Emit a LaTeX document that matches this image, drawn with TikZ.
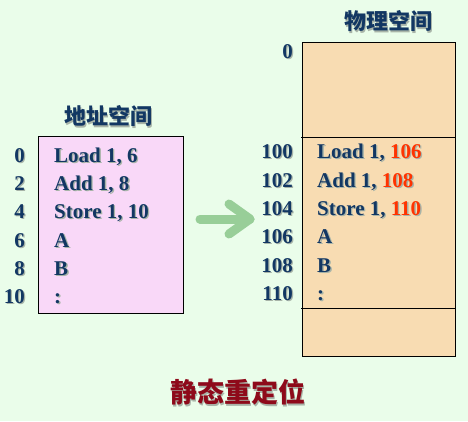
\documentclass[tikz,border=0pt]{standalone}
\usepackage{fontspec}
\setmainfont{Liberation Serif}
\newfontfamily\cjk{Noto Sans CJK SC}
\definecolor{bgc}{HTML}{EAFDEA}
\definecolor{pinkc}{HTML}{F9D8F8}
\definecolor{wheatc}{HTML}{F8DCB2}
\definecolor{txtblue}{HTML}{123763}
\definecolor{hlred}{HTML}{FF3300}
\definecolor{shadowc}{HTML}{A8B4A8}
\definecolor{arrowc}{HTML}{98CE98}
\definecolor{titlered}{HTML}{8E0A1A}
\newcommand\hlc{hlred}
\newcommand\hl[1]{\textcolor{\hlc}{#1}}
\newcommand\sh[1]{\leavevmode\rlap{\kern1.3pt\raisebox{-1.3pt}{\def\hlc{shadowc}\textcolor{shadowc}{#1}}}#1}
\tikzset{
  lbl/.style={font=\bfseries\fontsize{21}{21}\selectfont, text=txtblue, inner sep=0pt},
  codeline/.style={lbl, anchor=base west},
  addr/.style={lbl, anchor=base east},
  cntitle/.style={font=\cjk\bfseries\fontsize{22}{22}\selectfont, text=txtblue, inner sep=0pt},
  membox/.style={draw=black, line width=0.9pt},
  divider/.style={draw=black, line width=0.9pt},
  bigarrow/.style={draw=arrowc, line width=9pt, line cap=round, line join=round}
}
\begin{document}
\begin{tikzpicture}[x=1pt,y=-1pt]
\fill[bgc] (0,0) rectangle (468,421);
\useasboundingbox (0,0) rectangle (468,421);
% left box
\draw[membox, fill=pinkc] (38,136) rectangle (183,313);
\node[cntitle] (lt) at (108,117) {\sh{地址空间}};
\node[addr] (la0) at (25,162) {\sh{0}};
\node[addr] (la2) at (25,190.5) {\sh{2}};
\node[addr] (la4) at (25,218.5) {\sh{4}};
\node[addr] (la6) at (25,247) {\sh{6}};
\node[addr] (la8) at (25,275) {\sh{8}};
\node[addr] (la10) at (25,303) {\sh{10}};
\node[codeline] (lc0) at (54,162) {\sh{Load 1, 6}};
\node[codeline] (lc2) at (54,190.5) {\sh{Add 1, 8}};
\node[codeline] (lc4) at (54,218.5) {\sh{Store 1, 10}};
\node[codeline] (lc6) at (54,247) {\sh{A}};
\node[codeline] (lc8) at (54,275) {\sh{B}};
\node[codeline] (lc10) at (54,303) {\sh{:}};
% right box
\draw[membox, fill=wheatc] (302,42) rectangle (455,356);
\draw[divider] (301,137) -- (455,137);
\draw[divider] (301,308) -- (455,308);
\node[cntitle] (rt) at (388,22) {\sh{物理空间}};
\node[addr] (ra0) at (293,58) {\sh{0}};
\node[addr] (ra100) at (293,158.5) {\sh{100}};
\node[addr] (ra102) at (293,187) {\sh{102}};
\node[addr] (ra104) at (293,215) {\sh{104}};
\node[addr] (ra106) at (293,243.5) {\sh{106}};
\node[addr] (ra108) at (293,272) {\sh{108}};
\node[addr] (ra110) at (293,300) {\sh{110}};
\node[codeline] (rc100) at (317,158.5) {\sh{Load 1, \hl{106}}};
\node[codeline] (rc102) at (317,187) {\sh{Add 1, \hl{108}}};
\node[codeline] (rc104) at (317,215) {\sh{Store 1, \hl{110}}};
\node[codeline] (rc106) at (317,243.5) {\sh{A}};
\node[codeline] (rc108) at (317,272) {\sh{B}};
\node[codeline] (rc110) at (317,300) {\sh{:}};
% arrow
\coordinate (as) at (200,219);
\coordinate (ae) at (250,219);
\draw[bigarrow] (as) -- (ae);
\draw[bigarrow] (229,204) -- (ae) -- (229,234);
% bottom title
\node[font=\cjk\bfseries\fontsize{27}{27}\selectfont, text=titlered, inner sep=0pt] (bt) at (238,393) {\sh{静态重定位}};
\end{tikzpicture}
\end{document}
